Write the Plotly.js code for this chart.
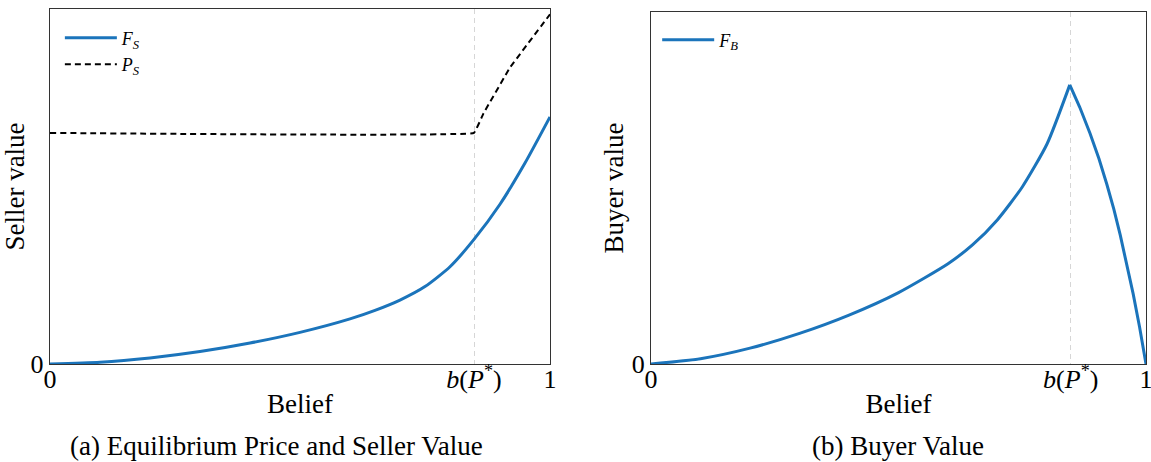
<!DOCTYPE html>
<html>
<head>
<meta charset="utf-8">
<script src="https://cdn.plot.ly/plotly-3.0.1.min.js"></script>
<style>html,body{margin:0;padding:0;background:#fff;}#chart{width:1151px;height:462px;}</style>
</head>
<body>
<div id="chart"></div>
<script>
// ---- data ----
const bStar = 0.848;
const xTickVals = [0, bStar, 1];
const xTickText = ['0', '<i>b</i>(<i>P</i><sup>*</sup>)', '1'];
const yTickVals = [0];
const yTickText = ['0'];

const beliefFS = [0, 0.1, 0.2, 0.3, 0.4, 0.5, 0.6, 0.65, 0.7, 0.75, 0.8, 0.848, 0.9, 0.95, 1.0];
const valueFS  = [0, 0.005, 0.017, 0.035, 0.059, 0.089, 0.127, 0.151, 0.180, 0.218, 0.274, 0.351, 0.450, 0.566, 0.696];

const beliefPS = [0, 0.848, 0.867, 0.92, 1.0];
const valuePS  = [0.651, 0.651, 0.706, 0.835, 0.985];

const beliefFBup = [0, 0.1, 0.2, 0.3, 0.4, 0.5, 0.6, 0.65, 0.7, 0.75, 0.8, 0.846];
const valueFBup  = [0, 0.015, 0.045, 0.087, 0.139, 0.203, 0.285, 0.339, 0.410, 0.503, 0.625, 0.793];
const beliefFBdown = [0.846, 0.866, 0.887, 0.905, 0.921, 0.935, 0.948, 0.961, 0.974, 0.987, 1.0];
const valueFBdown  = [0.793, 0.730, 0.655, 0.583, 0.510, 0.440, 0.366, 0.285, 0.200, 0.105, 0];

const seriesNames = ['<i>F</i><sub><i>S</i></sub>', '<i>P</i><sub><i>S</i></sub>', '<i>F</i><sub><i>B</i></sub>'];
const captions = ['(a) Equilibrium Price and Seller Value', '(b) Buyer Value'];
const axisTitles = {x: 'Belief', yLeft: 'Seller value', yRight: 'Buyer value'};

// ---- styles ----
const blue = '#1b74bb';
const serif = '"Liberation Serif", serif';
const frameColor = '#333333';

const traces = [
  {x: beliefFS, y: valueFS, name: seriesNames[0], mode: 'lines', line: {color: blue, width: 3, shape: 'spline', smoothing: 0.6}, xaxis: 'x', yaxis: 'y', legend: 'legend'},
  {x: beliefPS, y: valuePS, name: seriesNames[1], mode: 'lines', line: {color: '#000', width: 2, dash: '6px,4px', shape: 'spline', smoothing: 0.15}, xaxis: 'x', yaxis: 'y', legend: 'legend'},
  {x: beliefFBup, y: valueFBup, name: seriesNames[2], mode: 'lines', line: {color: blue, width: 3, shape: 'spline', smoothing: 0.6}, xaxis: 'x2', yaxis: 'y2', legend: 'legend2', legendgroup: 'fb'},
  {x: beliefFBdown, y: valueFBdown, name: seriesNames[2], mode: 'lines', line: {color: blue, width: 3, shape: 'linear'}, xaxis: 'x2', yaxis: 'y2', legend: 'legend2', legendgroup: 'fb', showlegend: false}
];

function xAxis(domain, anchor) {
  return {
    domain: domain, anchor: anchor, range: [0, 1],
    showline: true, mirror: true, linecolor: frameColor, linewidth: 1.2,
    showgrid: true, gridcolor: '#d6d6d6', griddash: '5px,4px', gridwidth: 1,
    zeroline: false, ticks: '', tickvals: xTickVals, ticktext: xTickText,
    tickfont: {family: serif, size: 26, color: '#000'}, ticklabelstandoff: -8,
    ticklabeloverflow: 'allow',
    title: {text: axisTitles.x, font: {family: serif, size: 27, color: '#000'}, standoff: 0},
    automargin: false, fixedrange: true
  };
}
function yAxis(domain, anchor, title) {
  return {
    domain: domain, anchor: anchor, range: [0, 1],
    showline: true, mirror: true, linecolor: frameColor, linewidth: 1.2,
    showgrid: false, zeroline: false, ticks: '', tickvals: yTickVals, ticktext: yTickText,
    tickfont: {family: serif, size: 26, color: '#000'}, ticklabelstandoff: 0,
    ticklabeloverflow: 'allow',
    title: {text: title, font: {family: serif, size: 27, color: '#000'}, standoff: 0},
    automargin: false, fixedrange: true
  };
}

const layout = {
  width: 1151, height: 462,
  margin: {l: 50, r: 5, t: 9, b: 98},
  paper_bgcolor: '#fff', plot_bgcolor: '#fff',
  font: {family: serif, color: '#000'},
  showlegend: true,
  xaxis: xAxis([0, 0.4562], 'y'),
  yaxis: yAxis([0, 1], 'x', axisTitles.yLeft),
  xaxis2: xAxis([0.5484, 1], 'y2'),
  yaxis2: yAxis([0, 0.9915], 'x2', axisTitles.yRight),
  legend: {x: 0.009, y: 0.97, xanchor: 'left', yanchor: 'top', bgcolor: 'rgba(0,0,0,0)', borderwidth: 0, font: {family: serif, size: 18, color: '#000'}, tracegroupgap: 0, itemwidth: 52},
  legend2: {x: 0.554, y: 0.965, xanchor: 'left', yanchor: 'top', bgcolor: 'rgba(0,0,0,0)', borderwidth: 0, font: {family: serif, size: 18, color: '#000'}, itemwidth: 52},
  annotations: [
    {text: captions[0], xref: 'paper', yref: 'paper', x: 0.207, y: -0.231, xanchor: 'center', yanchor: 'middle', showarrow: false, font: {family: serif, size: 27, color: '#000'}},
    {text: captions[1], xref: 'paper', yref: 'paper', x: 0.774, y: -0.231, xanchor: 'center', yanchor: 'middle', showarrow: false, font: {family: serif, size: 27, color: '#000'}}
  ]
};

Plotly.newPlot('chart', traces, layout, {displayModeBar: false, staticPlot: true});
</script>
</body>
</html>
